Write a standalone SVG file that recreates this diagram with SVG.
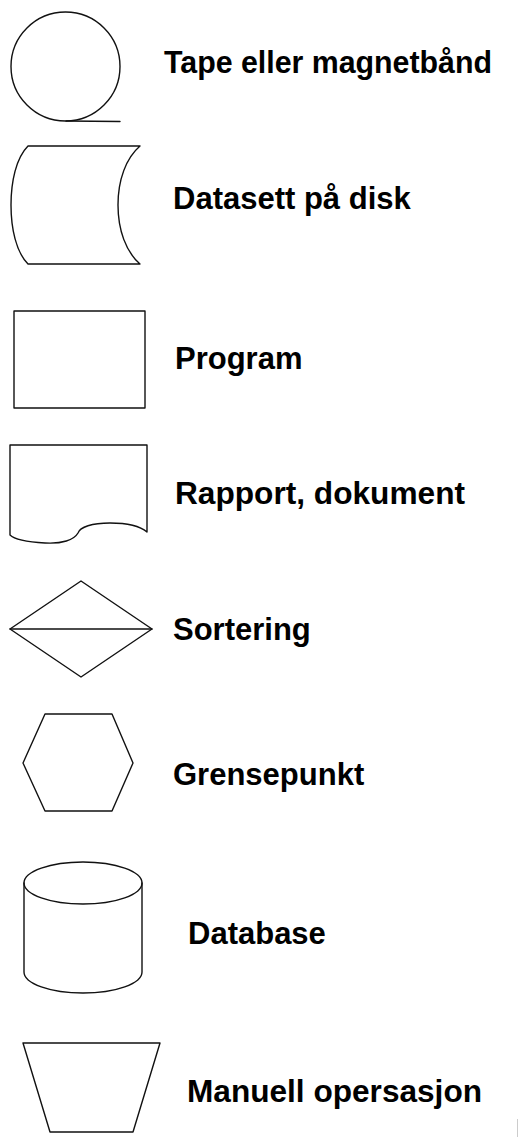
<svg xmlns="http://www.w3.org/2000/svg" width="519" height="1137" viewBox="0 0 519 1137">
  <style>
    .shape { fill: none; stroke: #111; stroke-width: 1.4; stroke-linejoin: round; stroke-linecap: round; }
    .label { font-family: "Liberation Sans", Arial, Helvetica, sans-serif; font-weight: bold; font-size: 31px; fill: #000; }
  </style>
  <rect x="0" y="0" width="519" height="1137" fill="#fff"/>
  <g id="connectors"></g>
  <g id="tape">
    <circle class="shape" cx="65.5" cy="66.5" r="54.5"/>
    <line class="shape" x1="66" y1="121" x2="120" y2="121.5"/>
    <text class="label" x="164" y="73" textLength="328" lengthAdjust="spacingAndGlyphs">Tape eller magnetbånd</text>
  </g>
  <g id="disk">
    <path class="shape" d="M140,146 L28,146 C16,158 11,182 11,205 C11,228 16,252 28,264 L140,264 C126,252 118,230 118,205 C118,180 126,158 140,146 Z"/>
    <text class="label" x="173" y="209">Datasett på disk</text>
  </g>
  <g id="program">
    <rect class="shape" x="14" y="311" width="131" height="97"/>
    <text class="label" x="175" y="369">Program</text>
  </g>
  <g id="rapport">
    <path class="shape" d="M10,445 L147,445 L147,532 C140,526 128,523 110,523 C92,523 80,527 78,533 C74,540 62,544 45,543 C28,542 14,539 10,535 Z"/>
    <text class="label" x="175" y="504" textLength="290" lengthAdjust="spacingAndGlyphs">Rapport, dokument</text>
  </g>
  <g id="sortering">
    <polygon class="shape" points="10,629 81,581 152,629 81,677"/>
    <line class="shape" x1="10" y1="629" x2="152" y2="629"/>
    <text class="label" x="173" y="640">Sortering</text>
  </g>
  <g id="grensepunkt">
    <polygon class="shape" points="45,714 112,714 133,763 112,811 45,811 23,763"/>
    <text class="label" x="173" y="785">Grensepunkt</text>
  </g>
  <g id="database">
    <ellipse class="shape" cx="83" cy="883" rx="59" ry="21"/>
    <path class="shape" d="M24,883 L24,972 A59,21 0 0 0 142,972 L142,883"/>
    <text class="label" x="188" y="944">Database</text>
  </g>
  <g id="manuell">
    <polygon class="shape" points="23,1043 160,1043 133,1132 50,1132"/>
    <text class="label" x="187" y="1102" textLength="295" lengthAdjust="spacingAndGlyphs">Manuell opersasjon</text>
  </g>
  <line x1="517.5" y1="1119" x2="517.5" y2="1137" stroke="#ccc" stroke-width="1"/>
</svg>
